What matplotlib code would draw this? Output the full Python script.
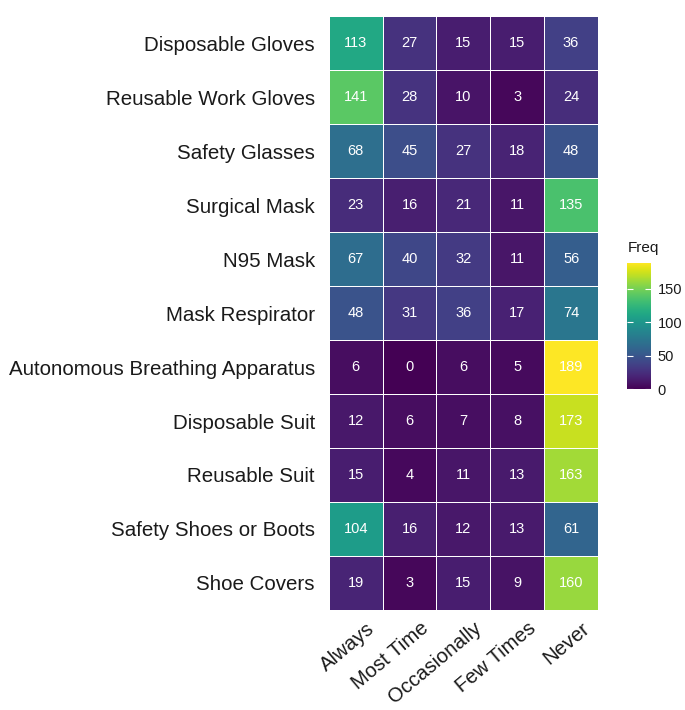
import matplotlib.pyplot as plt
import matplotlib.transforms as mtransforms
import numpy as np

plt.rcParams['font.family'] = ['Liberation Sans', 'DejaVu Sans']

items = ["Disposable Gloves", "Reusable Work Gloves", "Safety Glasses",
         "Surgical Mask", "N95 Mask", "Mask Respirator",
         "Autonomous Breathing Apparatus", "Disposable Suit",
         "Reusable Suit", "Safety Shoes or Boots", "Shoe Covers"]
freq_levels = ["Always", "Most Time", "Occasionally", "Few Times", "Never"]

always = [113, 141, 68, 23, 67, 48, 6, 12, 15, 104, 19]
most_time = [27, 28, 45, 16, 40, 31, 0, 6, 4, 16, 3]
occasionally = [15, 10, 27, 21, 32, 36, 6, 7, 11, 12, 15]
few_times = [15, 3, 18, 11, 11, 17, 5, 8, 13, 13, 9]
never = [36, 24, 48, 135, 56, 74, 189, 173, 163, 61, 160]

data = np.array([always, most_time, occasionally, few_times, never]).T
txt_col = '#1a1a1a'

fig = plt.figure(figsize=(6.85, 7.10), dpi=100)
ax = fig.add_axes([0.480, 0.141, 0.393, 0.836])

mesh = ax.pcolormesh(data, cmap='viridis', vmin=0, vmax=data.max(),
                     edgecolors='white', linewidth=0.6)
ax.set_xlim(0, len(freq_levels))
ax.set_ylim(len(items), 0)

for i in range(len(items)):
    for j in range(len(freq_levels)):
        ax.text(j + 0.5, i + 0.5, str(data[i, j]), ha='center', va='center',
                color='white', fontsize=10.5)

# x labels as rotated texts, anchored a bit right of each column centre
ax.set_xticks(np.arange(len(freq_levels)) + 0.5)
ax.set_xticklabels([])
xtrans = (mtransforms.blended_transform_factory(ax.transData, ax.transAxes)
          + mtransforms.ScaledTranslation(10 / 100, -9 / 100,
                                          fig.dpi_scale_trans))
for j, lab in enumerate(freq_levels):
    ax.text(j + 0.5, 0, lab, transform=xtrans, rotation=40, ha='right',
            va='top', rotation_mode='anchor', fontsize=14.6, color=txt_col)

ax.set_yticks(np.arange(len(items)) + 0.5)
ax.set_yticklabels(items, fontsize=14.8, color=txt_col)
ax.tick_params(axis='y', length=0, pad=10)
ax.tick_params(axis='x', length=0)
for s in ax.spines.values():
    s.set_visible(False)

cax = fig.add_axes([0.916, 0.452, 0.034, 0.178])
cb = fig.colorbar(mesh, cax=cax, ticks=[0, 50, 100, 150])
cb.outline.set_visible(False)
cb.ax.tick_params(length=4, color='white', labelsize=10.5, pad=5,
                  direction='in', left=True, labelcolor=txt_col)
cax.set_title("Freq", fontsize=11, loc='left', pad=8, color=txt_col)

fig.savefig("out.png", dpi=100)
